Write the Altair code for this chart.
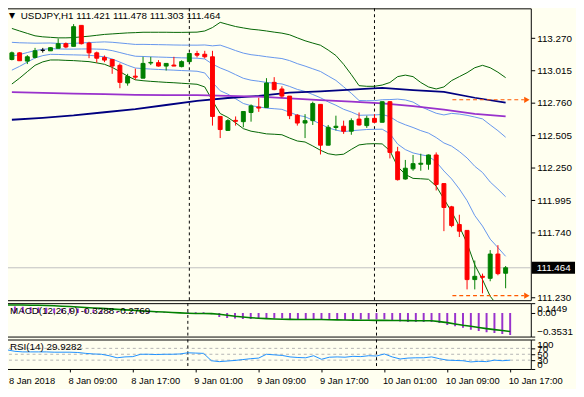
import altair as alt
import pandas as pd

symbol_header = "USDJPY,H1  111.421 111.478 111.303 111.464"
macd_header = "MACD(12,26,9) -0.3288 -0.2769"
rsi_header = "RSI(14) 29.9282"

opens = [113.102, 113.154, 113.089, 113.118, 113.174, 113.170, 113.190, 113.226, 113.205, 113.370,
         113.231, 113.154, 113.118, 113.102, 113.056, 112.917, 112.971, 112.955, 113.074, 113.077,
         113.050, 113.058, 113.046, 113.085, 113.149, 113.143, 113.123, 112.654, 112.544, 112.623,
         112.613, 112.685, 112.728, 112.724, 112.922, 112.870, 112.814, 112.664, 112.602, 112.621,
         112.749, 112.428, 112.567, 112.577, 112.538, 112.633, 112.582, 112.639, 112.608, 112.770,
         112.376, 112.162, 112.242, 112.278, 112.278, 112.351, 112.126, 111.943, 111.804, 111.758,
         111.371, 111.397, 111.381, 111.572, 111.421]
highs = [113.164, 113.160, 113.136, 113.193, 113.193, 113.199, 113.267, 113.236, 113.380, 113.370,
         113.241, 113.164, 113.133, 113.102, 113.071, 112.989, 113.030, 113.123, 113.123, 113.097,
         113.071, 113.123, 113.095, 113.154, 113.170, 113.170, 113.170, 112.654, 112.633, 112.654,
         112.693, 112.749, 112.801, 112.955, 112.963, 112.891, 112.814, 112.672, 112.672, 112.770,
         112.749, 112.587, 112.660, 112.621, 112.639, 112.685, 112.660, 112.672, 112.770, 112.775,
         112.415, 112.312, 112.351, 112.361, 112.355, 112.371, 112.126, 111.951, 111.881, 111.758,
         111.521, 111.418, 111.603, 111.642, 111.478]
lows = [113.095, 113.092, 113.066, 113.110, 113.156, 113.170, 113.190, 113.190, 113.205, 113.220,
        113.112, 113.077, 113.081, 112.989, 112.876, 112.896, 112.942, 112.955, 113.058, 113.046,
        113.015, 113.050, 113.040, 113.085, 113.118, 113.110, 112.582, 112.484, 112.544, 112.582,
        112.569, 112.613, 112.690, 112.724, 112.860, 112.801, 112.633, 112.582, 112.484, 112.587,
        112.355, 112.428, 112.544, 112.517, 112.510, 112.582, 112.564, 112.602, 112.608, 112.324,
        112.150, 112.157, 112.227, 112.227, 112.235, 112.072, 111.752, 111.783, 111.706, 111.294,
        111.294, 111.263, 111.358, 111.405, 111.303]
closes = [113.154, 113.092, 113.123, 113.170, 113.174, 113.195, 113.226, 113.200, 113.360, 113.226,
          113.154, 113.112, 113.097, 113.050, 112.922, 112.969, 112.963, 113.071, 113.079, 113.050,
          113.071, 113.050, 113.085, 113.149, 113.136, 113.123, 112.654, 112.551, 112.621, 112.616,
          112.693, 112.737, 112.720, 112.917, 112.865, 112.814, 112.660, 112.602, 112.621, 112.755,
          112.428, 112.569, 112.577, 112.538, 112.621, 112.587, 112.639, 112.608, 112.770, 112.371,
          112.157, 112.247, 112.283, 112.286, 112.351, 112.119, 111.938, 111.796, 111.752, 111.371,
          111.397, 111.389, 111.572, 111.418, 111.464]

# Bollinger band (outer, green)
bb_upper = [113.346, 113.326, 113.307, 113.288, 113.280, 113.276, 113.272, 113.272, 113.274, 113.280,
            113.285, 113.292, 113.299, 113.303, 113.307, 113.311, 113.313, 113.316, 113.316, 113.316,
            113.316, 113.315, 113.315, 113.316, 113.317, 113.326, 113.353, 113.394, 113.377, 113.361,
            113.350, 113.340, 113.334, 113.326, 113.317, 113.309, 113.296, 113.272, 113.249, 113.231,
            113.214, 113.176, 113.133, 113.064, 112.983, 112.896, 112.891, 112.891, 112.901, 112.921,
            112.967, 112.979, 112.967, 112.921, 112.886, 112.870, 112.886, 112.936, 112.967, 112.998,
            113.037, 113.056, 113.037, 113.002, 112.959]
bb_lower = [112.909, 112.955, 113.006, 113.056, 113.083, 113.098, 113.098, 113.095, 113.093, 113.089,
            113.085, 113.075, 113.064, 113.040, 113.006, 112.971, 112.942, 112.935, 112.930, 112.926,
            112.922, 112.919, 112.915, 112.911, 112.907, 112.886, 112.778, 112.677, 112.646, 112.604,
            112.558, 112.538, 112.528, 112.517, 112.514, 112.510, 112.484, 112.461, 112.453, 112.422,
            112.388, 112.361, 112.351, 112.357, 112.395, 112.430, 112.438, 112.440, 112.438, 112.384,
            112.260, 112.198, 112.167, 112.164, 112.160, 112.106, 112.005, 111.905, 111.789, 111.657,
            111.487, 111.371, 111.240, 111.163, 111.086]

ma_bars = [0, 4, 8, 12, 16, 20, 24, 28, 32, 36, 40, 44, 48, 52, 56, 60, 64]
ma_navy = [112.628, 112.643, 112.662, 112.687, 112.711, 112.744, 112.776, 112.799, 112.816,
           112.841, 112.851, 112.865, 112.878, 112.861, 112.847, 112.801, 112.762]
ma_purple = [112.845, 112.840, 112.833, 112.829, 112.824, 112.822, 112.822, 112.816, 112.809,
             112.796, 112.783, 112.770, 112.756, 112.735, 112.708, 112.675, 112.654]

macd_main = [0.100, 0.095, 0.090, 0.085, 0.080, 0.075, 0.070, 0.065, 0.070, 0.065,
             0.055, 0.045, 0.035, 0.025, 0.020, 0.010, 0.010, 0.015, 0.015, 0.010,
             0.010, 0.010, 0.010, 0.012, 0.010, 0.008, -0.020, -0.060, -0.075, -0.085,
             -0.090, -0.090, -0.090, -0.085, -0.085, -0.085, -0.090, -0.095, -0.095, -0.090,
             -0.100, -0.105, -0.105, -0.105, -0.100, -0.100, -0.100, -0.100, -0.095, -0.110,
             -0.130, -0.135, -0.135, -0.135, -0.135, -0.150, -0.180, -0.200, -0.220, -0.250,
             -0.270, -0.290, -0.300, -0.315, -0.3288]
macd_signal = [0.118, 0.118, 0.117, 0.115, 0.113, 0.110, 0.105, 0.100, 0.095, 0.088,
               0.080, 0.074, 0.067, 0.060, 0.052, 0.045, 0.038, 0.030, 0.025, 0.018,
               0.012, 0.006, 0.000, -0.005, -0.008, -0.010, -0.011, -0.020, -0.035, -0.050,
               -0.062, -0.072, -0.080, -0.086, -0.090, -0.094, -0.097, -0.100, -0.100, -0.100,
               -0.100, -0.102, -0.104, -0.105, -0.108, -0.110, -0.111, -0.112, -0.112, -0.113,
               -0.114, -0.115, -0.116, -0.117, -0.118, -0.130, -0.145, -0.165, -0.185, -0.200,
               -0.218, -0.235, -0.250, -0.263, -0.2769]
rsi_vals = [65, 60, 58, 58, 58, 58, 57, 57, 57, 56,
            53, 51, 50, 45, 38, 41, 42, 50, 50, 49,
            50, 50, 51, 55, 54, 53, 28, 25, 27, 29,
            32, 35, 37, 50, 48, 46, 41, 39, 38, 45,
            33, 40, 41, 40, 43, 42, 45, 44, 51, 41,
            34, 37, 38, 38, 41, 35, 30, 29, 28, 24,
            26, 25, 30, 28, 29.93]

price_ticks = [113.270, 113.015, 112.760, 112.505, 112.250, 111.995, 111.740, 111.230]
macd_ticks = [0.1449, 0.0, -0.3531]
rsi_ticks = [100, 70, 50, 30, 0]
rsi_levels = [70, 50, 30]
tick_bars = [0, 8, 16, 24, 32, 40, 48, 56, 64]
tick_labels = ["8 Jan 2018", "8 Jan 09:00", "8 Jan 17:00", "9 Jan 01:00", "9 Jan 09:00",
               "9 Jan 17:00", "10 Jan 01:00", "10 Jan 09:00", "10 Jan 17:00"]
separator_bars = [23, 47]
level_lines = [112.785, 111.245]
level_start_bar = 57.1
last_price = 111.464

FONT = "Liberation Sans"
W = 535
n = len(opens)
bars = list(range(n))

cdf = pd.DataFrame(dict(bar=bars, open=opens, high=highs, low=lows, close=closes))
cdf["dir"] = ["up" if c > o else ("down" if c < o else "doji") for o, c in zip(opens, closes)]

mid = [(u + l) / 2 for u, l in zip(bb_upper, bb_lower)]
inner_up = [(m + u) / 2 for m, u in zip(mid, bb_upper)]
inner_lo = [(m + l) / 2 for m, l in zip(mid, bb_lower)]


def long_df(named, xs):
    rows = []
    for name, arr in named:
        for b, v in zip(xs, arr):
            rows.append({"bar": b, "v": v, "line": name})
    return pd.DataFrame(rows)


green_df = long_df([("g_up", bb_upper), ("g_lo", bb_lower)], bars)
blue_df = long_df([("b_up", inner_up), ("b_mid", mid), ("b_lo", inner_lo)], bars)
navy_df = pd.DataFrame({"bar": ma_bars, "v": ma_navy})
purple_df = pd.DataFrame({"bar": ma_bars, "v": ma_purple})

mdf = pd.DataFrame(dict(bar=bars, main=macd_main, signal=macd_signal, zero=[0.0] * n))
rdf = pd.DataFrame(dict(bar=bars, rsi=rsi_vals))
sdf = pd.DataFrame(dict(bar=separator_bars))
ldf = pd.DataFrame(dict(start=[level_start_bar] * len(level_lines), v=level_lines))

x_scale = alt.Scale(domain=[-0.25, -0.25 + W / 8.0], nice=False, zero=False)
price_scale = alt.Scale(domain=[111.209, 113.504], nice=False, zero=False)
macd_scale = alt.Scale(domain=[macd_ticks[2], macd_ticks[0]], nice=False, zero=False)
rsi_scale = alt.Scale(domain=[0, 100], nice=False, zero=False)

price_axis = alt.Axis(orient="right", values=price_ticks, format=".3f", tickSize=4,
                      labelPadding=2, title=None)
macd_axis = alt.Axis(orient="right", values=macd_ticks, tickSize=4, labelPadding=2, title=None,
                     labelFlush=True, labelFlushOffset=0, labelOverlap=False,
                     labelExpr="datum.value == 0 ? '0.00' : format(datum.value, '.4f')")
rsi_axis = alt.Axis(orient="right", values=rsi_ticks, tickSize=4, labelPadding=2, title=None,
                    labelFlush=True, labelFlushOffset=0, labelOverlap=False)
label_js = "[" + ",".join("'%s'" % t for t in tick_labels) + "]"
# the first date label is drawn as its own text mark (kept inside the page)
x_axis_bottom = alt.Axis(values=tick_bars,
                         labelExpr="datum.value == 0 ? '' : " + label_js + "[round(datum.value/8)]",
                         tickSize=3, labelAlign="left", labelBaseline="top", labelPadding=4,
                         labelOffset=-2, labelFlush=False, labelOverlap=False, labelBound=False,
                         title=None, labelFontSize=9.5)


def X_none(f):
    return alt.X(f, type="quantitative", scale=x_scale, axis=None)


def YP(f):
    return alt.Y(f, type="quantitative", scale=price_scale, axis=price_axis)


UP, DOWN, DOJI = "#008000", "#FF0000", "#000000"

# ---------------- main panel ----------------
green_lines = alt.Chart(green_df).mark_line(strokeWidth=1, clip=True, color="#006400").encode(
    x=X_none("bar"), y=YP("v"), detail="line:N")
blue_lines = alt.Chart(blue_df).mark_line(strokeWidth=1, clip=True, color="#6495ED").encode(
    x=X_none("bar"), y=YP("v"), detail="line:N")
navy_line = alt.Chart(navy_df).mark_line(strokeWidth=1.8, clip=True, color="#000080").encode(
    x=X_none("bar"), y=YP("v"))
purple_line = alt.Chart(purple_df).mark_line(strokeWidth=1.8, clip=True, color="#9932CC").encode(
    x=X_none("bar"), y=YP("v"))
price_line = alt.Chart(pd.DataFrame({"p": [last_price]})).mark_rule(color="#C0C0C0", strokeWidth=1).encode(
    y=YP("p"))
sep_main = alt.Chart(sdf).mark_rule(color="black", strokeDash=[3, 3], strokeWidth=1).encode(x=X_none("bar"))

candle_layers = []
for d, col in [("up", UP), ("down", DOWN), ("doji", DOJI)]:
    sub = cdf[cdf["dir"] == d]
    candle_layers.append(alt.Chart(sub).mark_rule(strokeWidth=1, clip=True, color=col).encode(
        x=X_none("bar"), y=YP("low"), y2="high:Q"))
    candle_layers.append(alt.Chart(sub).mark_bar(size=4, strokeWidth=1, clip=True, color=col, stroke=col).encode(
        x=X_none("bar"), y=YP("open"), y2="close:Q"))

levels = alt.Chart(ldf).mark_rule(color="#FF5A00", strokeDash=[4, 3], strokeWidth=1.2).encode(
    x=alt.X("start:Q", scale=x_scale, axis=None),
    x2=alt.value(528),
    y=YP("v"),
)
arrows = alt.Chart(ldf).mark_point(shape="triangle-right", filled=True, color="#FF5A00", size=40, opacity=1).encode(
    x=alt.value(531), y=YP("v"))
hdr_tri = alt.Chart(pd.DataFrame({"t": ["\u25bc"]})).mark_text(
    align="left", baseline="middle", fontSize=8, font="DejaVu Sans", color="black").encode(
    x=alt.value(4), y=alt.value(8), text="t:N")
hdr = alt.Chart(pd.DataFrame({"t": [symbol_header]})).mark_text(
    align="left", baseline="middle", fontSize=10, font=FONT, color="black").encode(
    x=alt.value(16), y=alt.value(8), text="t:N")
pbox_df = pd.DataFrame({"p": [last_price], "hi": [last_price + 0.047], "lo": [last_price - 0.047]})
pbox = alt.Chart(pbox_df).mark_rect(color="black", clip=False).encode(
    x=alt.value(536), x2=alt.value(580), y=YP("hi"), y2="lo:Q")
ptext = alt.Chart(pbox_df).mark_text(color="white", align="left", baseline="middle", fontSize=10, font=FONT).encode(
    x=alt.value(541), y=YP("p"), text=alt.Text("p:Q", format=".3f"))

main = alt.layer(price_line, sep_main, green_lines, blue_lines, navy_line, purple_line,
                 *candle_layers, levels, arrows, hdr_tri, hdr, pbox, ptext).properties(width=W, height=297)

# ---------------- MACD panel ----------------
hist = alt.Chart(mdf).mark_rule(color="#9932CC", strokeWidth=2, clip=True).encode(
    x=X_none("bar"),
    y=alt.Y("main:Q", scale=macd_scale, axis=macd_axis),
    y2="zero:Q")
sig = alt.Chart(mdf).mark_line(color="#008000", strokeWidth=1.6, clip=True).encode(
    x=X_none("bar"),
    y=alt.Y("signal:Q", scale=macd_scale, axis=macd_axis))
sep_macd = alt.Chart(sdf).mark_rule(color="black", strokeDash=[3, 3]).encode(x=X_none("bar"))
macd_txt = alt.Chart(pd.DataFrame({"t": [macd_header]})).mark_text(
    align="left", baseline="middle", fontSize=10, font=FONT, color="black").encode(
    x=alt.value(5), y=alt.value(8), text="t:N")
macd = alt.layer(sep_macd, hist, sig, macd_txt).properties(width=W, height=34)

# ---------------- RSI panel ----------------
XB = alt.X("bar:Q", scale=x_scale, axis=x_axis_bottom)
rlev = alt.Chart(pd.DataFrame({"v": rsi_levels})).mark_rule(color="#B4B4B4", strokeDash=[3, 3]).encode(
    y=alt.Y("v:Q", scale=rsi_scale, axis=rsi_axis))
sep_rsi = alt.Chart(sdf).mark_rule(color="black", strokeDash=[3, 3]).encode(x=XB)
rline = alt.Chart(rdf).mark_line(color="#1E90FF", strokeWidth=1, clip=True).encode(
    x=XB, y=alt.Y("rsi:Q", scale=rsi_scale, axis=rsi_axis))
rsi_txt = alt.Chart(pd.DataFrame({"t": [rsi_header]})).mark_text(
    align="left", baseline="middle", fontSize=10, font=FONT, color="black").encode(
    x=alt.value(5), y=alt.value(8), text="t:N")
first_lbl = alt.Chart(pd.DataFrame({"t": [tick_labels[0]]})).mark_text(
    align="left", baseline="top", fontSize=9.5, font=FONT, color="black", clip=False).encode(
    x=alt.value(4), y=alt.value(37), text="t:N")
rsi = alt.layer(rlev, sep_rsi, rline, rsi_txt, first_lbl).properties(width=W, height=30)

chart = alt.vconcat(main, macd, rsi, spacing=3, bounds="flush").properties(
    padding={"left": -4, "top": -4, "right": 0, "bottom": 0}
).configure(background="#FFFFF0").configure_view(
    stroke="black", strokeWidth=1
).configure_axis(
    labelFont=FONT, labelFontSize=10, labelColor="black", tickColor="black",
    domain=False, grid=False
)

chart.save("out.html", embed_options={"renderer": "svg", "actions": False})
